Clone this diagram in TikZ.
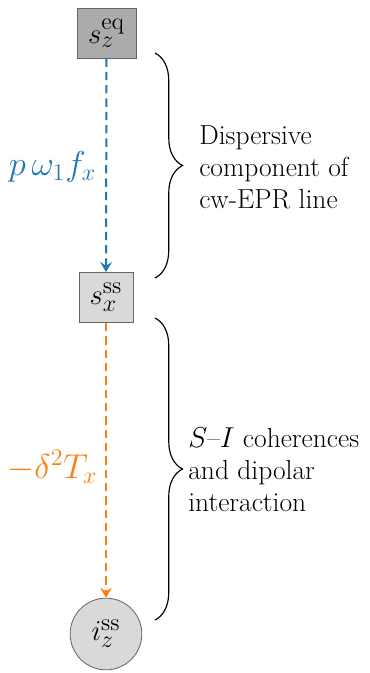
\documentclass[tikz,border=0pt]{standalone}
\usetikzlibrary{arrows.meta,decorations.pathreplacing}
\definecolor{tabblue}{RGB}{31,119,180}
\definecolor{taborange}{RGB}{255,127,14}
\begin{document}
\begin{tikzpicture}[x=0.6pt,y=-0.6pt,
  boxnode/.style={draw=black!60,line width=0.5pt,minimum width=34pt,minimum height=30pt,inner sep=0pt,font=\fontsize{19}{21}\selectfont},
  circnode/.style={circle,draw=black!60,line width=0.5pt,fill=black!15,minimum size=43pt,inner sep=0pt,font=\fontsize{19}{21}\selectfont},
  flow/.style={dash pattern=on 5pt off 3pt,line width=1.2pt,-{Stealth[length=6pt,width=7pt,inset=2.2pt]}},
  lbl/.style={font=\fontsize{19.5}{22}\selectfont},
  bracedeco/.style={decorate,decoration={brace,amplitude=16.5pt},line width=0.7pt},
  txt/.style={anchor=west,align=left,font=\fontsize{16.5}{19.2}\selectfont,inner sep=0pt}]
\useasboundingbox (0,0) rectangle (369,673);
\node[boxnode,fill=black!33,minimum width=35.4pt] (eq) at (106.5,33) {$s_z^{\mathrm{eq}}$};
\node[boxnode,fill=black!15,minimum width=32.4pt] (ss) at (106,297.5) {$s_x^{\mathrm{ss}}$};
\node[circnode] (iz) at (106,634) {$i_z^{\mathrm{ss}}$};
\draw[flow,tabblue] (eq) -- (ss);
\draw[flow,taborange] (ss) -- (iz);
\node[lbl,text=tabblue] (l1) at (52.5,167) {$p\,\omega_1 f_x$};
\node[lbl,text=taborange] (l2) at (52.5,467) {$-\delta^2 T_x$};
\coordinate (b1t) at (155,53);
\coordinate (b1b) at (155,278);
\coordinate (b2t) at (155,318);
\coordinate (b2b) at (155,620);
\draw[bracedeco] (b1t) -- (b1b);
\draw[bracedeco] (b2t) -- (b2b);
\node[txt] (t1) at (199,167) {Dispersive\\component of\\cw-EPR line};
\node[txt] (t2) at (188,470) {$S$--$I$ coherences\\and dipolar\\interaction};
\end{tikzpicture}
\end{document}
